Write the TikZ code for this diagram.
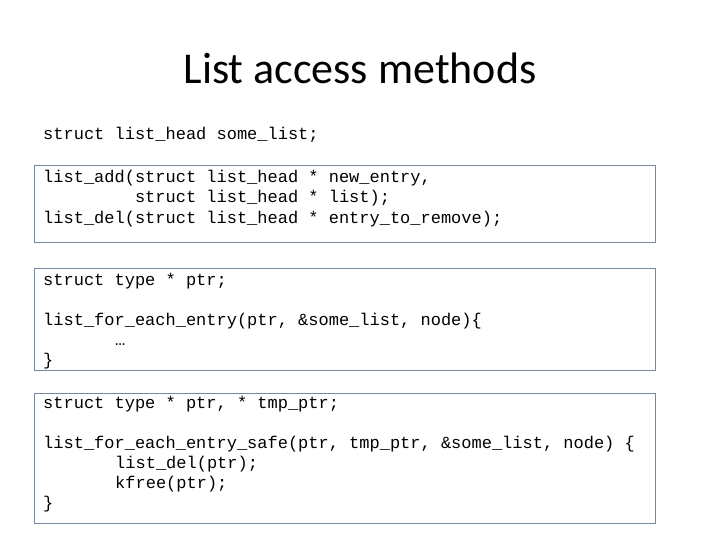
\documentclass[tikz,border=0pt]{standalone}
\usepackage{fontspec}
\setmainfont{Carlito}
\setmonofont{Liberation Mono}
\definecolor{boxline}{RGB}{120,135,155}
\begin{document}
\begin{tikzpicture}[x=1pt,y=-1pt,
codebox/.style={draw=boxline,line width=0.9pt},
code/.style={anchor=base west,inner sep=0pt,font=\ttfamily\fontsize{17}{20}\selectfont},
title/.style={font=\fontsize{44}{50}\selectfont}]
\useasboundingbox (0,0) rectangle (720,540);
\node[title] (ttl) at (360,68) {List access methods};
\node[code] (decl) at (43,140) {struct list\_head some\_list;};
% add / del
\draw[codebox] (34,165) rectangle (655,242);
\node[code] (add1) at (43,183) {list\_add(struct list\_head * new\_entry,};
\node[code] (add2) at (43,203) {\hspace*{91.8pt}struct list\_head * list);};
\node[code] (del)  at (43,223) {list\_del(struct list\_head * entry\_to\_remove);};
% iterate
\draw[codebox] (34,268) rectangle (655,370);
\node[code] (ptr)  at (43,285) {struct type * ptr;};
\node[code] (each) at (43,325) {list\_for\_each\_entry(ptr, \&some\_list, node)\{};
\node[code] (dots) at (43,345) {\hspace*{72pt}…};
\node[code] (end1) at (43,365) {\}};
% iterate safely
\draw[codebox] (34,393) rectangle (655,523);
\node[code] (ptr2) at (43,408) {struct type * ptr, * tmp\_ptr;};
\node[code] (safe) at (43,448) {list\_for\_each\_entry\_safe(ptr, tmp\_ptr, \&some\_list, node) \{};
\node[code] (rm)   at (43,468) {\hspace*{72pt}list\_del(ptr);};
\node[code] (fr)   at (43,488) {\hspace*{72pt}kfree(ptr);};
\node[code] (end2) at (43,508) {\}};
\end{tikzpicture}
\end{document}
